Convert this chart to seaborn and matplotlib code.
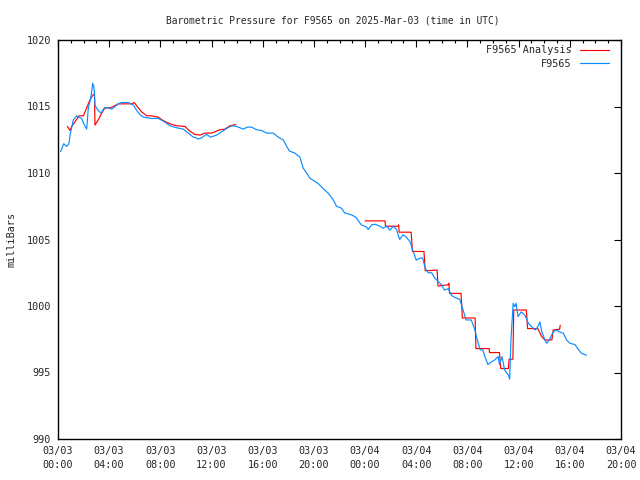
import pandas as pd
import matplotlib
matplotlib.use("Agg")
import matplotlib.pyplot as plt
import matplotlib.dates as mdates
import seaborn as sns

# Station readings (hours after 2025-03-03 00:00 UTC, millibars)
obs_hours = [0.2, 0.45, 0.68, 0.85, 0.95, 1.2, 1.46, 1.6, 1.85, 2.06, 2.24, 2.37, 2.53, 2.63,
             2.71, 2.8, 2.84, 2.89, 3.0, 3.15, 3.36, 3.62, 3.93, 4.2, 4.45, 4.71, 4.97, 5.5,
             5.9, 6.15, 6.4, 6.66, 7.3, 7.84, 8.23, 8.75, 9.27, 9.79, 10.18, 10.57, 10.78,
             10.96, 11.23, 11.6, 11.93, 12.4, 12.79, 13.18, 13.57, 13.96, 14.48, 14.79,
             15.13, 15.52, 15.91, 16.3, 16.82, 17.21, 17.6, 17.87, 18.1, 18.5, 18.9, 19.17,
             19.43, 19.7, 20.1, 20.34, 20.7, 21.1, 21.5, 21.77, 22.16, 22.4, 22.95, 23.3,
             23.7, 24.1, 24.25, 24.5, 24.77, 25.15, 25.4, 25.7, 25.94, 26.2, 26.46, 26.7,
             26.97, 27.2, 27.5, 27.76, 27.9, 28.0, 28.3, 28.5, 28.7, 28.93, 29.2, 29.45,
             29.7, 29.97, 30.2, 30.5, 30.75, 31.0, 31.4, 31.66, 31.9, 32.3, 32.58, 32.84,
             33.0, 33.2, 33.36, 33.6, 33.88, 34.14, 34.4, 34.5, 34.7, 34.9, 35.2, 35.3,
             35.4, 35.57, 35.7, 35.8, 35.95, 36.2, 36.5, 36.76, 37.0, 37.3, 37.5, 37.66,
             37.8, 38.05, 38.2, 38.4, 38.7, 38.96, 39.2, 39.5, 39.74, 40.0, 40.4, 40.65,
             40.9, 41.3]
obs_mb = [1011.6, 1012.2, 1012.0, 1012.2, 1012.9, 1014.0, 1014.3, 1014.2, 1014.1, 1013.6,
          1013.3, 1014.9, 1015.5, 1016.1, 1016.75, 1016.5, 1016.1, 1015.1, 1014.9, 1014.7,
          1014.5, 1014.9, 1014.9, 1014.8, 1015.0, 1015.2, 1015.3, 1015.3, 1015.1, 1014.7,
          1014.4, 1014.2, 1014.1, 1014.1, 1013.9, 1013.55, 1013.4, 1013.3, 1013.0, 1012.7,
          1012.65, 1012.55, 1012.65, 1012.9, 1012.7, 1012.85, 1013.1, 1013.35, 1013.55,
          1013.5, 1013.3, 1013.45, 1013.45, 1013.25, 1013.2, 1013.0, 1013.0, 1012.7,
          1012.5, 1012.0, 1011.65, 1011.5, 1011.2, 1010.35, 1010.0, 1009.6, 1009.35,
          1009.2, 1008.85, 1008.5, 1008.0, 1007.5, 1007.35, 1007.0, 1006.85, 1006.65,
          1006.1, 1005.95, 1005.75, 1006.1, 1006.15, 1006.0, 1005.85, 1006.0, 1005.7,
          1006.0, 1005.75, 1005.0, 1005.35, 1005.2, 1004.85, 1004.1, 1003.7, 1003.45,
          1003.6, 1003.6, 1002.85, 1002.5, 1002.5, 1002.1, 1001.85, 1001.6, 1001.2,
          1001.3, 1000.8, 1000.65, 1000.5, 999.7, 998.95, 998.95, 998.2, 997.2, 996.7,
          996.7, 996.2, 995.6, 995.8, 995.95, 996.2, 995.6, 996.2, 995.2, 994.8, 994.5,
          997.45, 1000.2, 999.95, 1000.2, 999.2, 999.55, 999.3, 998.7, 998.45, 998.2,
          998.45, 998.8, 998.1, 997.45, 997.2, 997.45, 998.05, 998.2, 998.05, 997.95,
          997.45, 997.2, 997.1, 996.75, 996.45, 996.3]

# Analysis values, two separate stretches
ana1_hours = [0.73, 0.94, 1.07, 1.33, 1.64, 1.98, 2.24, 2.5, 2.76, 2.85, 2.89, 3.15, 3.41,
              3.67, 4.06, 4.32, 4.71, 5.37, 5.76, 5.96, 6.27, 6.54, 6.93, 7.32, 7.84, 8.2,
              8.75, 9.27, 9.92, 10.3, 10.7, 11.1, 11.48, 12.0, 12.27, 12.66, 13.05, 13.44,
              13.9]
ana1_mb = [1013.5, 1013.2, 1013.5, 1013.85, 1014.3, 1014.3, 1014.9, 1015.5, 1015.9, 1015.9,
           1013.6, 1014.0, 1014.5, 1014.9, 1014.9, 1015.0, 1015.2, 1015.2, 1015.2, 1015.3,
           1014.9, 1014.6, 1014.3, 1014.3, 1014.2, 1013.95, 1013.7, 1013.55, 1013.5,
           1013.15, 1012.9, 1012.85, 1013.0, 1013.0, 1013.1, 1013.25, 1013.3, 1013.55,
           1013.65]
ana2_hours = [24.0, 25.55, 25.6, 26.6, 26.62, 26.66, 27.6, 27.7, 28.6, 28.7, 29.63, 29.7,
              30.5, 30.55, 30.6, 31.5, 31.6, 32.6, 32.66, 33.7, 33.72, 34.5, 34.6, 35.2,
              35.25, 35.55, 35.62, 36.6, 36.7, 37.5, 37.8, 38.05, 38.6, 38.7, 39.2, 39.25]
ana2_mb = [1006.4, 1006.4, 1006.0, 1006.0, 1006.1, 1005.55, 1005.55, 1004.1, 1004.1,
           1002.65, 1002.7, 1001.5, 1001.6, 1001.7, 1000.95, 1000.95, 999.1, 999.1, 996.8,
           996.8, 996.5, 996.5, 995.3, 995.3, 996.0, 996.0, 999.7, 999.7, 998.3, 998.3,
           997.7, 997.45, 997.45, 998.2, 998.25, 998.55]

start = pd.Timestamp("2025-03-03 00:00")


def frame(hours, mb, name, seg):
    return pd.DataFrame({
        "time": start + pd.to_timedelta(hours, unit="h"),
        "mb": mb,
        "series": name,
        "seg": seg,
    })


df = pd.concat([
    frame(ana1_hours, ana1_mb, "F9565 Analysis", 0),
    frame(ana2_hours, ana2_mb, "F9565 Analysis", 1),
    frame(obs_hours, obs_mb, "F9565", 2),
], ignore_index=True)

sns.set_style("white")
plt.rcParams["font.family"] = ["DejaVu Sans Mono"]
plt.rcParams["font.size"] = 7.3

fig = plt.figure(figsize=(6.4, 4.8), dpi=100)
ax = fig.add_axes([58 / 640, 41 / 480, 563 / 640, 399 / 480])

sns.lineplot(data=df, x="time", y="mb", hue="series", units="seg", estimator=None,
             palette={"F9565 Analysis": "#ff0000", "F9565": "#0a8cff"},
             linewidth=0.85, sort=False, ax=ax)

ax.set_xlim(start, start + pd.Timedelta(hours=44))
ax.set_ylim(990, 1020)
ax.set_yticks(range(990, 1021, 5))
ax.xaxis.set_major_locator(mdates.HourLocator(byhour=range(0, 24, 4)))
ax.xaxis.set_minor_locator(mdates.HourLocator())
ax.xaxis.set_major_formatter(mdates.DateFormatter("%m/%d\n%H:%M"))

ax.tick_params(which="both", direction="in", top=True, right=True, color="black")
ax.tick_params(which="major", length=5, width=0.8, pad=5)
ax.tick_params(which="minor", length=2.5, width=0.8)
for s in ax.spines.values():
    s.set_color("black")
    s.set_linewidth(1.0)

ax.set_title("Barometric Pressure for F9565 on 2025-Mar-03 (time in UTC)", pad=12,
             fontsize=6.9, x=0.4876)
ax.set_xlabel("")
ax.set_ylabel("milliBars", labelpad=7)

ax.legend(loc="upper right", bbox_to_anchor=(1 - 6 / 563, 1 + 1 / 399), frameon=False,
          markerfirst=False, handlelength=2.9, borderaxespad=0.2, labelspacing=0.35,
          handletextpad=0.8)

fig.canvas.draw()
plt.setp(ax.get_xticklabels(), linespacing=1.55)

plt.savefig("out.png", dpi=100)
plt.close()
